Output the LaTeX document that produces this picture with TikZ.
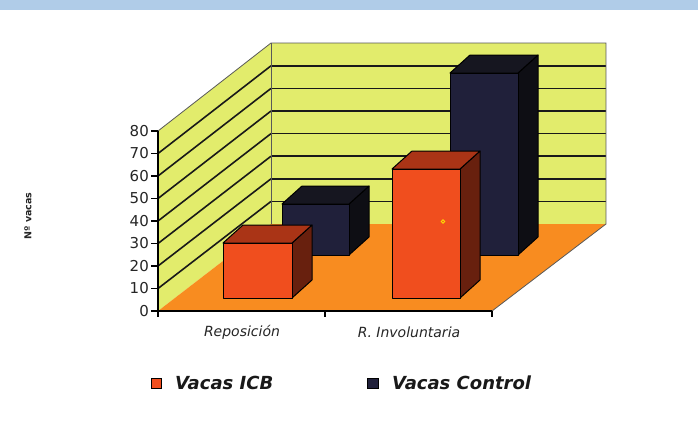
\documentclass[tikz,border=0pt]{standalone}
\usepackage{fontspec}
\setmainfont{DejaVu Sans}
\definecolor{bandblue}{RGB}{176,204,232}
\definecolor{wallcol}{RGB}{226,236,108}
\definecolor{floorcol}{RGB}{248,140,32}
\definecolor{icbfront}{RGB}{240,78,30}
\definecolor{icbtop}{RGB}{170,52,22}
\definecolor{icbside}{RGB}{104,32,14}
\definecolor{ctlfront}{RGB}{32,32,58}
\definecolor{ctltop}{RGB}{22,22,32}
\definecolor{ctlside}{RGB}{14,14,20}
\newcommand{\drawbar}[7]{%
  \filldraw[barline, fill=#7] (#2,#3) -- (#2+20,#3-18) -- (#2+20,#4-18) -- (#2,#4) -- cycle;
  \filldraw[barline, fill=#6] (#1,#3) -- (#2,#3) -- (#2+20,#3-18) -- (#1+20,#3-18) -- cycle;
  \filldraw[barline, fill=#5] (#1,#3) rectangle (#2,#4);
}
\begin{document}
\begin{tikzpicture}[x=1pt,y=-1pt,
  gridline/.style={black!90, line width=1.6pt},
  edge/.style={gray!70!black, line width=0.8pt},
  axisline/.style={black, line width=1.3pt},
  barline/.style={black, line width=1pt, line join=round},
  ticklab/.style={anchor=east, font=\fontsize{15}{15}\selectfont, text=black!85, inner sep=0pt},
  catlab/.style={font=\fontsize{14}{14}\selectfont\itshape, text=black!85, inner sep=0pt},
  leglab/.style={anchor=west, font=\fontsize{18}{18}\selectfont\bfseries\itshape, text=black!90, inner sep=0pt},
  legbox/.style={draw=black, line width=0.8pt}]
\useasboundingbox (0,0) rectangle (698,432);
\fill[white] (0,0) rectangle (698,432);
\fill[bandblue] (0,0) rectangle (698,10);
% walls and floor
\fill[wallcol] (158,311) -- (158,131) -- (271,43) -- (271,224) -- cycle;
\fill[wallcol] (271,43) rectangle (606,224);
\fill[floorcol] (158,311) -- (492,311) -- (606,224) -- (271,224) -- cycle;
% grid lines
\foreach \k in {1,...,7} {
  \draw[gridline] (271,{224-\k*22.6}) -- (606,{224-\k*22.6});
  \draw[gridline] (158,{311-\k*22.5}) -- (271,{224-\k*22.6});
}
\draw[edge] (158,131) -- (271,43) -- (606,43) -- (606,224);
\draw[edge] (271,43) -- (271,224);
\draw[edge] (492,311) -- (606,224);
% bars: control (back) then ICB (front)
\drawbar{282}{349}{204}{255}{ctlfront}{ctltop}{ctlside}
\drawbar{450}{518}{73}{255}{ctlfront}{ctltop}{ctlside}
\drawbar{223}{292}{243}{298}{icbfront}{icbtop}{icbside}
\drawbar{392}{460}{169}{298}{icbfront}{icbtop}{icbside}
\draw[yellow!80!orange, line width=0.8pt] (443,221.5) circle (1.8);
% axes
\draw[axisline] (158,131) -- (158,317);
\draw[axisline] (158,311) -- (492,311);
\foreach \xx in {325,492} \draw[axisline] (\xx,311) -- (\xx,317);
\foreach \v [count=\i from 0] in {0,10,20,30,40,50,60,70,80} {
  \draw[axisline] (151,{311-\i*22.5}) -- (158,{311-\i*22.5});
  \node[ticklab] (t\i) at (149,{311-\i*22.5}) {\v};
}
% category labels
\node[catlab] (c1) at (242,332) {Reposición};
\node[catlab] (c2) at (409,332) {R. Involuntaria};
% axis title
\node[rotate=90, font=\fontsize{9.5}{9.5}\selectfont\bfseries, text=black!85, inner sep=0pt] (ytitle) at (28,216) {Nº vacas};
% legend
\draw[legbox, fill=icbfront] (151,378) rectangle (161,388);
\node[leglab] (l1) at (175,382.5) {Vacas ICB};
\draw[legbox, fill=ctlfront] (367,378) rectangle (378,388);
\node[leglab] (l2) at (392,382.5) {Vacas Control};
\end{tikzpicture}
\end{document}
